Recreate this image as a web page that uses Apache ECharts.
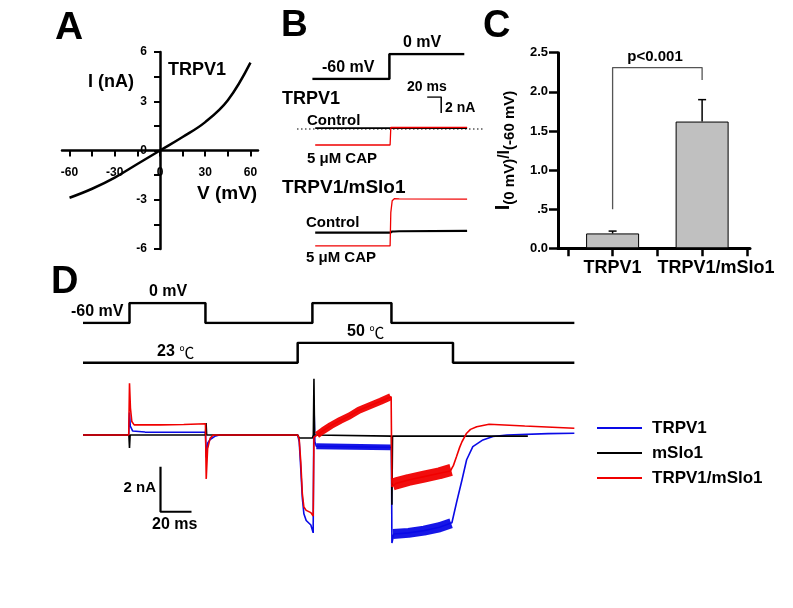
<!DOCTYPE html>
<html><head><meta charset="utf-8">
<script src="https://cdn.jsdelivr.net/npm/echarts@6/dist/echarts.min.js"></script>
<style>html,body{margin:0;padding:0;background:#fff}#c{width:793px;height:608px}</style>
</head><body><div id="c"></div>
<script>
const FONT = '"Liberation Sans", Arial, sans-serif';

// ---------- Panel A: I-V relation ----------
const ivVoltage = [-60, -45, -30, -15, 0, 15, 30, 45, 60];
const ivCurrent = [-2.88, -2.33, -1.65, -0.82, 0, 0.82, 1.73, 3.06, 5.35];
const ivXTicks = [-60, -45, -30, -15, 0, 15, 30, 45, 60];
const ivXLabels = [-60, -30, 0, 30, 60];
const ivYTicks = [-6, -4.5, -3, -1.5, 0, 1.5, 3, 4.5, 6];
const ivYLabels = [-6, -3, 0, 3, 6];

// ---------- Panel B: step protocol and traces (ms, mV / nA) ----------
const bStepTime = [-4, 106, 106, 213];
const bStepMV = [-60, -60, 0, 0];
const bTime = [0, 107, 108, 110, 113, 120, 217];
const bTrpv1Control = [0.12, 0.12, 0.12, 0.12, 0.12, 0.12, 0.12];
const bTrpv1Cap = [-2.0, -2.0, 0.19, 0.19, 0.19, 0.19, 0.2];
const bSloControl = [0, 0, 0.1, 0.15, 0.15, 0.18, 0.22];
const bSloCap = [-1.65, -1.65, 2.5, 4.0, 4.25, 4.22, 4.2];
const bZeroTime = [-26, 239];
const bZeroNA = [0, 0];
const bScaleTime = [160, 180, 180];
const bScaleNA = [4, 4, 2];

// ---------- Panel C: ratio bar chart ----------
const cCategories = ['TRPV1', 'TRPV1/mSlo1'];
const cCatPos = [1, 3];
const cMean = [0.19, 1.62];
const cErrTop = [0.22, 1.90];
const cXTicks = [0, 1, 2, 3, 4];
const cBracketX = [1, 1, 3, 3];
const cBracketY = [0.5, 2.31, 2.31, 2.15];

// ---------- Panel D: protocol, temperature and currents ----------
const dVoltTime = [0, 30, 30, 79, 79, 148, 148, 199, 199, 317];
const dVoltMV = [-60, -60, 0, 0, -60, -60, 0, 0, -60, -60];
const dTempTime = [0, 138.5, 138.5, 238.7, 238.7, 317];
const dTempC = [23, 23, 50, 50, 23, 23];
const dBlue = [[0,0],[29.5,0],[30,1.0],[30.5,0.4],[32,0.18],[40,0.13],[79,0.12],[79.5,-1.0],[80.5,-0.35],[82,-0.2],[85,-0.06],[88,0],[138.5,0],[139.5,-0.3],[140.5,-1.5],[141.5,-2.8],[142.5,-3.5],[144,-3.8],[147,-4.0],[148.5,-4.35],[149,1.4],[149.6,-0.3],[150.5,-0.5],[199,-0.55],[199.3,-4.8],[200.5,-4.4],[210,-4.35],[220,-4.25],[230,-4.1],[238,-3.9],[241,-3.0],[244.5,-2.0],[247.5,-1.1],[251.5,-0.52],[258,-0.22],[264.5,-0.07],[273.5,0],[300,0.06],[317,0.08]];
const dBlack = [[0,0],[29.6,0],[30,-0.58],[30.4,0],[79,0],[79.4,0.53],[79.8,0],[138.5,0],[139.5,-0.13],[148,-0.13],[148.6,0],[149,2.5],[149.4,0],[150,-0.03],[199,-0.05],[199.3,-3.1],[199.7,-0.05],[287,-0.05]];
const dRed = [[0,0],[29.5,0],[30,2.3],[30.6,1.2],[31.5,0.6],[33,0.45],[50,0.45],[65,0.47],[79,0.5],[79.5,-1.95],[80.4,-0.6],[82,-0.15],[84,0],[138.5,0],[139.5,-0.2],[140.5,-1.2],[141.5,-2.6],[142.5,-3.2],[144,-3.35],[147,-3.45],[148.5,-3.6],[149,-0.1],[151,0],[155,0.2],[160,0.42],[166,0.65],[172,0.85],[178,1.1],[185,1.3],[192,1.5],[198.8,1.7],[199.3,-2.3],[202,-2.15],[210,-2.0],[220,-1.85],[230,-1.7],[237,-1.6],[239,-1.35],[241,-0.96],[243,-0.55],[244.5,-0.3],[247.5,0.08],[250,0.25],[254,0.37],[262,0.48],[285,0.4],[317,0.3]];
// noisy stretches (drawn as bands around the mean level)
const dRedNoise1 = [[151,0],[155,0.2],[160,0.42],[166,0.65],[172,0.85],[178,1.1],[185,1.3],[192,1.5],[198.5,1.7]];
const dRedNoise2 = [[199.8,-2.2],[202,-2.15],[210,-2.0],[220,-1.85],[230,-1.7],[237.5,-1.55]];
const dBlueNoise1 = [[150.5,-0.5],[198.5,-0.55]];
const dBlueNoise2 = [[200,-4.4],[210,-4.35],[220,-4.25],[230,-4.1],[237.5,-3.92]];
const dScaleBar = [[50,-1.41],[50,-3.41],[70,-3.41]];
const dLegend = ['TRPV1', 'mSlo1', 'TRPV1/mSlo1'];

const BLUE = '#0a0ae6', RED = '#f00000', BLACK = '#000';
const zip = (a, b) => a.map((v, i) => [v, b[i]]);

function line(xi, data, color, width, extra) {
  return Object.assign({
    type: 'line', xAxisIndex: xi, yAxisIndex: xi, data: data, symbol: 'none',
    silent: true, animation: false,
    lineStyle: { color: color, width: width },
    itemStyle: { color: color }
  }, extra || {});
}
function band(data, color, width) {
  return line(7, data, color, width, { lineStyle: { color: color, width: width, cap: 'butt', opacity: 0.95 } });
}
function txt(t, x, y, size, opts) {
  opts = opts || {};
  return {
    type: 'text', x: x, y: y, silent: true,
    style: Object.assign({
      text: t, font: (opts.weight || 'bold') + ' ' + size + 'px ' + FONT,
      fill: '#000', align: opts.align || 'left', verticalAlign: 'middle'
    }, opts.rich ? { rich: opts.rich } : {})
  };
}
const hiddenX = (g, min, max) => ({ gridIndex: g, type: 'value', min: min, max: max, show: false });
const hiddenY = (g, min, max) => ({ gridIndex: g, type: 'value', min: min, max: max, show: false });
const lbl = { fontFamily: FONT, fontWeight: 'bold', color: '#000' };

const chart = echarts.init(document.getElementById('c'), null, { renderer: 'canvas' });
const option = {
  backgroundColor: '#fff',
  animation: false,
  grid: [
    { left: 62, top: 52, width: 196, height: 197, outerBoundsMode: 'none' },      // 0 A data
    { left: 297, top: 54, width: 185.5, height: 25, outerBoundsMode: 'none' },    // 1 B step
    { left: 297, top: 97, width: 185.5, height: 56, outerBoundsMode: 'none' },    // 2 B TRPV1
    { left: 297, top: 192.7, width: 185.5, height: 64, outerBoundsMode: 'none' }, // 3 B TRPV1/mSlo1
    { left: 558, top: 52.7, width: 192, height: 195.6, outerBoundsMode: 'none' }, // 4 C
    { left: 79.9, top: 303, width: 499.1, height: 20, outerBoundsMode: 'none' },  // 5 D voltage
    { left: 79.9, top: 342.7, width: 499.1, height: 20, outerBoundsMode: 'none' },// 6 D temperature
    { left: 79.9, top: 367.5, width: 499.1, height: 180, outerBoundsMode: 'none' },// 7 D currents
    { left: 62, top: 52, width: 196, height: 98.5, outerBoundsMode: 'none' },     // 8 A x-axis (at I = 0)
    { left: 160, top: 52, width: 98, height: 197, outerBoundsMode: 'none' }       // 9 A y-axis (at V = 0)
  ],
  xAxis: [
    hiddenX(0, -65, 65),
    hiddenX(1, -26, 239), hiddenX(2, -26, 239), hiddenX(3, -26, 239),
    { gridIndex: 4, type: 'value', min: -0.22, max: 4.07,
      axisLine: { show: true, onZero: false, lineStyle: { color: '#000', width: 3 } },
      axisTick: { show: true, customValues: cXTicks, length: 8, lineStyle: { color: '#000', width: 2.5 } },
      axisLabel: { customValues: cCatPos, margin: 11,
        formatter: v => v === cCatPos[0] ? '{a|' + cCategories[0] + '}' : '{b|' + cCategories[1] + '}',
        rich: { a: Object.assign({ fontSize: 18 }, lbl), b: Object.assign({ fontSize: 18, padding: [0, 0, 0, 28] }, lbl) } },
      splitLine: { show: false } },
    hiddenX(5, -2, 320), hiddenX(6, -2, 320), hiddenX(7, -2, 320),
    { gridIndex: 8, type: 'value', min: -65, max: 65, position: 'bottom',
      axisLine: { show: true, onZero: false, lineStyle: { color: '#000', width: 2.5 } },
      axisTick: { show: true, customValues: ivXTicks, length: 6, lineStyle: { color: '#000', width: 2 } },
      axisLabel: Object.assign({ customValues: ivXLabels, margin: 16, fontSize: 12 }, lbl),
      splitLine: { show: false } },
    hiddenX(9, 0, 65)
  ],
  yAxis: [
    hiddenY(0, -6, 6),
    hiddenY(1, -60, 0), hiddenY(2, -3, 4), hiddenY(3, -3, 5),
    { gridIndex: 4, type: 'value', min: 0, max: 2.5, interval: 0.5,
      axisLine: { show: true, onZero: false, lineStyle: { color: '#000', width: 3 } },
      axisTick: { show: true, length: 9, lineStyle: { color: '#000', width: 2.5 } },
      axisLabel: Object.assign({ margin: 10, fontSize: 13,
        formatter: v => v === 0.5 ? '.5' : v.toFixed(1) }, lbl),
      splitLine: { show: false },
      name: '{i|I}{s|(0 mV)}{t|/I}{s|(-60 mV)}', nameLocation: 'middle', nameRotate: 90, nameGap: 45,
      nameTextStyle: { rich: {
        i: Object.assign({ fontSize: 20, verticalAlign: 'bottom' }, lbl),
        t: Object.assign({ fontSize: 16, verticalAlign: 'bottom' }, lbl),
        s: Object.assign({ fontSize: 15, verticalAlign: 'bottom', padding: [0, 0, -4, 0] }, lbl) } } },
    hiddenY(5, -60, 0), hiddenY(6, 23, 50), hiddenY(7, -5, 3),
    hiddenY(8, 0, 6),
    { gridIndex: 9, type: 'value', min: -6, max: 6, interval: 1.5, position: 'left',
      axisLine: { show: true, onZero: false, lineStyle: { color: '#000', width: 2.5 } },
      axisTick: { show: true, customValues: ivYTicks, length: 6, lineStyle: { color: '#000', width: 2 } },
      axisLabel: Object.assign({ customValues: ivYLabels, margin: 13, fontSize: 12 }, lbl),
      splitLine: { show: false } }
  ],
  legend: {
    data: dLegend, orient: 'vertical', left: 597, top: 419.5, padding: 0,
    itemWidth: 45, itemHeight: 2, icon: 'rect', itemGap: 8,
    selectedMode: false,
    textStyle: Object.assign({ fontSize: 17, lineHeight: 17, padding: [0, 0, 0, 5] }, lbl)
  },
  series: [
    // A
    line(0, zip(ivVoltage, ivCurrent), BLACK, 2.5, { smooth: 0.4, z: 3 }),
    // B
    line(1, zip(bStepTime, bStepMV), BLACK, 2.5),
    line(2, zip(bZeroTime, bZeroNA), BLACK, 1, { lineStyle: { color: BLACK, width: 1, type: [1.5, 2.5] } }),
    line(2, zip(bTime, bTrpv1Control), BLACK, 1.8),
    line(2, zip(bTime, bTrpv1Cap), RED, 1.3),
    line(2, zip(bScaleTime, bScaleNA), BLACK, 1.5),
    line(3, zip(bTime, bSloControl), BLACK, 2.2),
    line(3, zip(bTime, bSloCap), RED, 1.3),
    // C
    { type: 'bar', xAxisIndex: 4, yAxisIndex: 4, silent: true, barWidth: 53,
      data: zip(cCatPos, cMean),
      itemStyle: { color: '#c0c0c0', borderColor: '#000', borderWidth: 1 } },
    { type: 'custom', xAxisIndex: 4, yAxisIndex: 4, silent: true, z: 5,
      data: cCatPos.map((p, i) => [p, cMean[i], cErrTop[i]]),
      renderItem: (params, api) => {
        const p0 = api.coord([api.value(0), api.value(1)]);
        const p1 = api.coord([api.value(0), api.value(2)]);
        return { type: 'group', children: [
          { type: 'line', shape: { x1: p0[0], y1: p0[1], x2: p1[0], y2: p1[1] }, style: { stroke: '#000', lineWidth: 1.5 } },
          { type: 'line', shape: { x1: p1[0] - 4, y1: p1[1], x2: p1[0] + 4, y2: p1[1] }, style: { stroke: '#000', lineWidth: 1.5 } }
        ] };
      } },
    line(4, zip(cBracketX, cBracketY), '#555', 1.3),
    // D protocol
    line(5, zip(dVoltTime, dVoltMV), BLACK, 2.5),
    line(6, zip(dTempTime, dTempC), BLACK, 2.5),
    // D currents
    line(7, dBlue, BLUE, 1.6, { name: 'TRPV1' }),
    band(dBlueNoise1, BLUE, 6),
    band(dBlueNoise2, BLUE, 10),
    line(7, dBlack, BLACK, 1.6, { name: 'mSlo1' }),
    line(7, dRed, RED, 1.6, { name: 'TRPV1/mSlo1' }),
    band(dRedNoise1, RED, 7),
    band(dRedNoise2, RED, 12),
    line(7, dScaleBar, BLACK, 2.2)
  ],
  graphic: [
    txt('A', 55, 28, 39), txt('B', 281, 26, 37), txt('C', 483, 27, 38), txt('D', 51, 283, 38),
    txt('I (nA)', 88, 82, 18), txt('TRPV1', 168, 70, 18), txt('V (mV)', 197, 194, 19),
    txt('0 mV', 403, 43, 16), txt('-60 mV', 322, 68, 16),
    txt('20 ms', 407, 87, 14), txt('2 nA', 445, 108, 14),
    txt('TRPV1', 282, 99, 18), txt('Control', 307, 121, 15), txt('5 \u03bcM CAP', 307, 159, 15),
    txt('TRPV1/mSlo1', 282, 188, 19), txt('Control', 306, 223, 15), txt('5 \u03bcM CAP', 306, 258, 15),
    txt('p<0.001', 655, 57, 15, { align: 'center' }),
    txt('-60 mV', 71, 312, 16), txt('0 mV', 149, 292, 16),
    txt('{b|23 }{n|\u2103}', 157, 352, 16, { rich: { b: { font: 'bold 16px ' + FONT, fill: '#000' }, n: { font: '15px "Noto Sans CJK SC", ' + FONT, fill: '#000' } } }),
    txt('{b|50 }{n|\u2103}', 347, 332, 16, { rich: { b: { font: 'bold 16px ' + FONT, fill: '#000' }, n: { font: '15px "Noto Sans CJK SC", ' + FONT, fill: '#000' } } }),
    txt('2 nA', 156, 488, 15, { align: 'right' }), txt('20 ms', 152, 525, 16)
  ]
};
chart.setOption(option);
</script>
</body></html>
